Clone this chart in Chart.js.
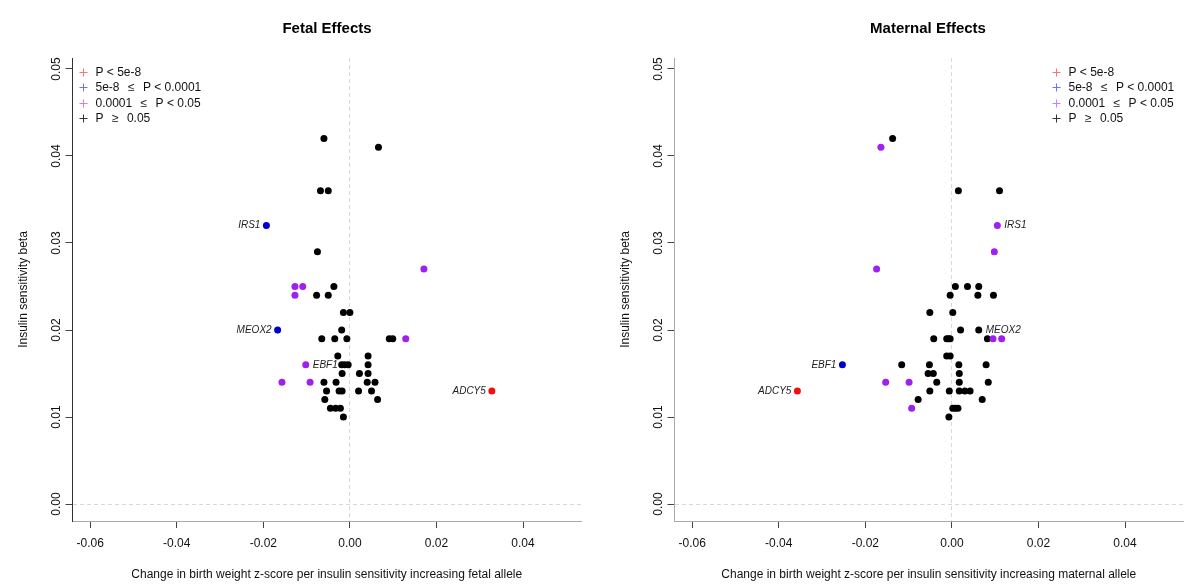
<!DOCTYPE html>
<html lang="en">
<head>
<meta charset="UTF-8">
<title>Fetal and Maternal Effects</title>
<script src="https://cdn.jsdelivr.net/npm/chart.js"></script>
<style>
  body { margin: 0; background: #fff; font-family: "Liberation Sans", Arial, sans-serif; }
  .page { position: relative; width: 1184px; height: 585px; overflow: hidden; }
  .panel { position: absolute; top: 0; width: 592px; height: 585px; }
  .title { position: absolute; top: 19px; line-height: 18px; font-size: 15px; font-weight: bold; color: #000;
           transform: translateX(-50%); white-space: nowrap; }
</style>
</head>
<body>
<div class="page">
  <div class="panel" style="left:0"><canvas id="fetal"></canvas></div>
  <div class="panel" style="left:602px"><canvas id="maternal"></canvas></div>
  <div class="title" style="left:327px">Fetal Effects</div>
  <div class="title" style="left:928px">Maternal Effects</div>
</div>

<script>
// axis ticks and legend text
const xTicks = [-0.06, -0.04, -0.02, 0, 0.02, 0.04];
const yTicks = [0, 0.01, 0.02, 0.03, 0.04, 0.05];
const classLabels = ['P < 5e-8', '5e-8\u2002\u2009\u2264\u2002\u2009P < 0.0001', '0.0001\u2002\u2009\u2264\u2002\u2009P < 0.05', 'P\u2002\u2009\u2265\u2002\u20090.05'];

// fetal effects: [change in birth weight z-score, insulin sensitivity beta]
const fetalRed = [[0.0328, 0.013]];
const fetalBlue = [[-0.0193, 0.032], [-0.0167, 0.020]];
const fetalPurple = [
  [0.0171, 0.027], [-0.0127, 0.025], [-0.0109, 0.025], [-0.0127, 0.024],
  [0.0129, 0.019], [-0.0102, 0.016], [-0.0157, 0.014], [-0.0092, 0.014]
];
const fetalBlack = [
  [-0.0060, 0.042], [0.0066, 0.041], [-0.0068, 0.036], [-0.0050, 0.036],
  [-0.0075, 0.029], [-0.0037, 0.025], [-0.0077, 0.024], [-0.0050, 0.024],
  [-0.0015, 0.022], [0.0000, 0.022], [-0.0019, 0.020],
  [-0.0065, 0.019], [-0.0035, 0.019], [-0.0007, 0.019], [0.0091, 0.019], [0.0099, 0.019],
  [-0.0028, 0.017], [0.0042, 0.017],
  [-0.0019, 0.016], [-0.0012, 0.016], [-0.0004, 0.016], [0.0042, 0.016],
  [-0.0018, 0.015], [0.0022, 0.015], [0.0042, 0.015],
  [-0.0060, 0.014], [-0.0032, 0.014], [0.0040, 0.014], [0.0058, 0.014],
  [-0.0054, 0.013], [-0.0025, 0.013], [-0.0018, 0.013], [0.0020, 0.013], [0.0050, 0.013],
  [-0.0058, 0.012], [0.0064, 0.012],
  [-0.0045, 0.011], [-0.0033, 0.011], [-0.0022, 0.011],
  [-0.0015, 0.010]
];
const fetalGenes = [['IRS1', -0.0193, 0.032], ['MEOX2', -0.0167, 0.020], ['EBF1', -0.0102, 0.016], ['ADCY5', 0.0328, 0.013]];

// maternal effects
const maternalRed = [[-0.0357, 0.013]];
const maternalBlue = [[-0.0253, 0.016]];
const maternalPurple = [
  [-0.0164, 0.041], [0.0105, 0.032], [0.0098, 0.029], [-0.0174, 0.027],
  [0.0095, 0.019], [0.0115, 0.019], [-0.0153, 0.014], [-0.0099, 0.014], [-0.0093, 0.011]
];
const maternalBlack = [
  [-0.0137, 0.042], [0.0015, 0.036], [0.0110, 0.036],
  [0.0008, 0.025], [0.0036, 0.025], [0.0062, 0.025],
  [-0.0004, 0.024], [0.0060, 0.024], [0.0096, 0.024],
  [-0.0051, 0.022], [0.0002, 0.022], [0.0020, 0.020], [0.0062, 0.020],
  [-0.0042, 0.019], [-0.0012, 0.019], [-0.0008, 0.019], [-0.0004, 0.019], [0.0082, 0.019],
  [-0.0012, 0.017], [-0.0004, 0.017],
  [-0.0116, 0.016], [-0.0052, 0.016], [0.0016, 0.016], [0.0079, 0.016],
  [-0.0055, 0.015], [-0.0043, 0.015], [0.0017, 0.015],
  [-0.0035, 0.014], [0.0017, 0.014], [0.0084, 0.014],
  [-0.0051, 0.013], [-0.0006, 0.013], [0.0017, 0.013], [0.0030, 0.013], [0.0042, 0.013],
  [-0.0078, 0.012], [0.0070, 0.012],
  [0.0002, 0.011], [0.0008, 0.011], [0.0014, 0.011],
  [-0.0007, 0.010]
];
const maternalGenes = [['IRS1', 0.0105, 0.032], ['MEOX2', 0.0062, 0.020], ['EBF1', -0.0253, 0.016], ['ADCY5', -0.0357, 0.013]];

const FONT = '"Liberation Sans", Arial, sans-serif';
const legendMarks = ['#ff7070', '#6f6fff', '#c97cff', '#333333'];

// gene labels + R style legend drawn on top of the points
const overlay = {
  id: 'overlay',
  afterDatasetsDraw(chart, args, o) {
    const { ctx, chartArea: a, scales: { x, y } } = chart;
    ctx.save();
    ctx.textBaseline = 'middle';
    ctx.font = 'italic 10px ' + FONT;
    ctx.fillStyle = '#222';
    o.genes.forEach(([name, gx, gy]) => {
      const px = x.getPixelForValue(gx), py = y.getPixelForValue(gy);
      const left = o.sides[name] === 'left';
      ctx.textAlign = left ? 'right' : 'left';
      ctx.fillText(name, px + (left ? -6 : 7), py);
    });

    ctx.font = '12px ' + FONT;
    ctx.textAlign = 'left';
    const w = Math.max(...classLabels.map(t => ctx.measureText(t).width));
    let mx = o.legendRight ? a.right - 10 - w - 11 : a.left + 10;
    mx = Math.round(mx) + 0.5;
    classLabels.forEach((t, i) => {
      const cy = Math.round(a.top + 14 + i * 15.35) + 0.5;
      ctx.strokeStyle = legendMarks[i];
      ctx.lineWidth = 1;
      ctx.beginPath();
      ctx.moveTo(mx - 4, cy); ctx.lineTo(mx + 4, cy);
      ctx.moveTo(mx, cy - 4); ctx.lineTo(mx, cy + 4);
      ctx.stroke();
      ctx.fillStyle = '#111';
      ctx.fillText(t, mx + 12, cy);
    });
    ctx.restore();
  }
};

const zeroGrid = c => (c.tick && c.tick.value === 0 ? '#d8d8d8' : 'rgba(0,0,0,0)');
const pts = arr => arr.map(([x, y]) => ({ x, y }));

function makePanel(id, red, blue, purple, black, genes, sides, xTitle, yBorder, legendRight) {
  const ds = (data, color) => ({ data: pts(data), backgroundColor: color, pointRadius: 3.5, pointBorderWidth: 0, pointHoverRadius: 3.5 });
  new Chart(document.getElementById(id), {
    type: 'scatter',
    data: {
      datasets: [ds(red, '#f01010'), ds(blue, '#0000cd'), ds(purple, '#a020f0'), ds(black, '#000000')]
    },
    options: {
      responsive: true,
      maintainAspectRatio: false,
      animation: false,
      layout: { padding: { top: 58, right: 11, bottom: 0, left: 0 } },
      plugins: {
        legend: { display: false },
        tooltip: { enabled: false },
        overlay: { genes: genes, sides: sides, legendRight: legendRight }
      },
      scales: {
        x: {
          type: 'linear', min: -0.0641, max: 0.0534,
          afterBuildTicks: s => { s.ticks = xTicks.map(v => ({ value: v })); },
          afterFit: s => { s.height = 64; },
          grid: { color: zeroGrid, tickLength: 7, tickColor: '#444' },
          border: { color: '#aaaaaa', dash: [4, 3] },
          ticks: { font: { family: FONT, size: 12 }, color: '#111', padding: 8, maxRotation: 0,
                   callback: v => v.toFixed(2) },
          title: { display: true, text: xTitle, font: { family: FONT, size: 12 }, color: '#111',
                   padding: { top: 0, bottom: 3 } }
        },
        y: {
          type: 'linear', min: -0.00195, max: 0.05126,
          afterBuildTicks: s => { s.ticks = yTicks.map(v => ({ value: v })); },
          afterFit: s => { s.width = 72.5; },
          grid: { color: zeroGrid, tickLength: 7, tickColor: '#444' },
          border: { color: yBorder, dash: [4, 3] },
          ticks: { font: { family: FONT, size: 12 }, color: '#111', minRotation: 90, maxRotation: 90,
                   crossAlign: 'center', padding: -3, callback: v => v.toFixed(2) },
          title: { display: true, text: 'Insulin sensitivity beta', font: { family: FONT, size: 12 }, color: '#111',
                   padding: { top: 16, bottom: 0 } }
        }
      }
    },
    plugins: [overlay]
  });
}

makePanel('fetal', fetalRed, fetalBlue, fetalPurple, fetalBlack, fetalGenes,
  { IRS1: 'left', MEOX2: 'left', EBF1: 'right', ADCY5: 'left' },
  'Change in birth weight z-score per insulin sensitivity increasing fetal allele', '#333333', false);

makePanel('maternal', maternalRed, maternalBlue, maternalPurple, maternalBlack, maternalGenes,
  { IRS1: 'right', MEOX2: 'right', EBF1: 'left', ADCY5: 'left' },
  'Change in birth weight z-score per insulin sensitivity increasing maternal allele', '#aaaaaa', true);
</script>
</body>
</html>
